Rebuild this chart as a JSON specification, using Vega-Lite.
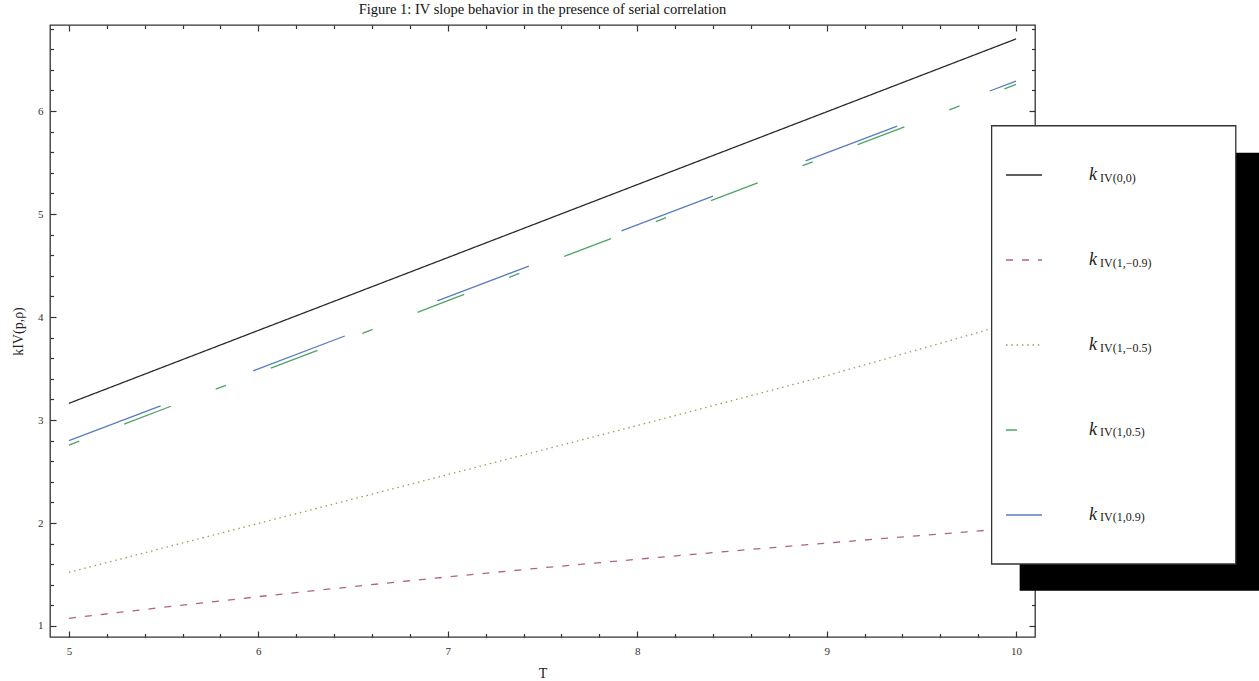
{
  "$schema": "https://vega.github.io/schema/vega-lite/v6.json",
  "width": 985,
  "height": 612,
  "autosize": {"type": "none"},
  "padding": {"left": 50, "top": 25, "right": 224, "bottom": 44},
  "background": "white",
  "title": {
    "text": "Figure 1: IV slope behavior in the presence of serial correlation",
    "font": "Liberation Serif",
    "fontSize": 14.5,
    "fontWeight": "normal",
    "color": "#111111",
    "anchor": "middle",
    "offset": 5
  },
  "config": {
    "view": {"stroke": "#333333", "strokeWidth": 1.3},
    "font": "Liberation Serif"
  },
  "datasets": {
    "lines": [
      {"T": 5, "k": 3.162, "series": "(0,0)", "sub": "IV(0,0)"},
      {"T": 6, "k": 3.870, "series": "(0,0)", "sub": "IV(0,0)"},
      {"T": 7, "k": 4.577, "series": "(0,0)", "sub": "IV(0,0)"},
      {"T": 8, "k": 5.285, "series": "(0,0)", "sub": "IV(0,0)"},
      {"T": 9, "k": 5.992, "series": "(0,0)", "sub": "IV(0,0)"},
      {"T": 10, "k": 6.700, "series": "(0,0)", "sub": "IV(0,0)"},
      {"T": 5, "k": 1.075, "series": "(1,−0.9)", "sub": "IV(1,−0.9)"},
      {"T": 5.5, "k": 1.182, "series": "(1,−0.9)", "sub": "IV(1,−0.9)"},
      {"T": 6, "k": 1.285, "series": "(1,−0.9)", "sub": "IV(1,−0.9)"},
      {"T": 6.5, "k": 1.383, "series": "(1,−0.9)", "sub": "IV(1,−0.9)"},
      {"T": 7, "k": 1.477, "series": "(1,−0.9)", "sub": "IV(1,−0.9)"},
      {"T": 7.5, "k": 1.565, "series": "(1,−0.9)", "sub": "IV(1,−0.9)"},
      {"T": 8, "k": 1.648, "series": "(1,−0.9)", "sub": "IV(1,−0.9)"},
      {"T": 8.5, "k": 1.728, "series": "(1,−0.9)", "sub": "IV(1,−0.9)"},
      {"T": 9, "k": 1.805, "series": "(1,−0.9)", "sub": "IV(1,−0.9)"},
      {"T": 9.5, "k": 1.879, "series": "(1,−0.9)", "sub": "IV(1,−0.9)"},
      {"T": 10, "k": 1.952, "series": "(1,−0.9)", "sub": "IV(1,−0.9)"},
      {"T": 5, "k": 1.521, "series": "(1,−0.5)", "sub": "IV(1,−0.5)"},
      {"T": 6, "k": 1.996, "series": "(1,−0.5)", "sub": "IV(1,−0.5)"},
      {"T": 7, "k": 2.470, "series": "(1,−0.5)", "sub": "IV(1,−0.5)"},
      {"T": 8, "k": 2.946, "series": "(1,−0.5)", "sub": "IV(1,−0.5)"},
      {"T": 9, "k": 3.430, "series": "(1,−0.5)", "sub": "IV(1,−0.5)"},
      {"T": 10, "k": 3.955, "series": "(1,−0.5)", "sub": "IV(1,−0.5)"},
      {"T": 5, "k": 2.757, "series": "(1,0.5)", "sub": "IV(1,0.5)"},
      {"T": 6, "k": 3.457, "series": "(1,0.5)", "sub": "IV(1,0.5)"},
      {"T": 7, "k": 4.158, "series": "(1,0.5)", "sub": "IV(1,0.5)"},
      {"T": 8, "k": 4.858, "series": "(1,0.5)", "sub": "IV(1,0.5)"},
      {"T": 9, "k": 5.558, "series": "(1,0.5)", "sub": "IV(1,0.5)"},
      {"T": 10, "k": 6.259, "series": "(1,0.5)", "sub": "IV(1,0.5)"},
      {"T": 5, "k": 2.799, "series": "(1,0.9)", "sub": "IV(1,0.9)"},
      {"T": 6, "k": 3.497, "series": "(1,0.9)", "sub": "IV(1,0.9)"},
      {"T": 7, "k": 4.196, "series": "(1,0.9)", "sub": "IV(1,0.9)"},
      {"T": 8, "k": 4.894, "series": "(1,0.9)", "sub": "IV(1,0.9)"},
      {"T": 9, "k": 5.593, "series": "(1,0.9)", "sub": "IV(1,0.9)"},
      {"T": 10, "k": 6.291, "series": "(1,0.9)", "sub": "IV(1,0.9)"}
    ]
  },
  "resolve": {"axis": {"x": "independent", "y": "independent"}},
  "layer": [
    {
      "data": {"name": "lines"},
      "mark": {"type": "line", "strokeWidth": 1.3},
      "encoding": {
        "x": {
          "field": "T", "type": "quantitative",
          "scale": {"domain": [4.9, 10.1], "nice": false, "zero": false},
          "axis": {
            "orient": "bottom",
            "values": [5, 5.2, 5.4, 5.6, 5.8, 6, 6.2, 6.4, 6.6, 6.8, 7, 7.2, 7.4, 7.6, 7.8, 8, 8.2, 8.4, 8.6, 8.8, 9, 9.2, 9.4, 9.6, 9.8, 10],
            "labelExpr": "datum.value % 1 === 0 ? '' + datum.value : ''",
            "tickSize": {"condition": {"test": "datum.value % 1 === 0", "value": -6}, "value": -3.5},
            "tickColor": "#333333", "tickWidth": 1.2,
            "labelPadding": 14, "labelFont": "Liberation Serif", "labelFontSize": 11, "labelColor": "#333333",
            "labelFlush": false, "labelOverlap": false,
            "domain": false, "grid": false,
            "title": "T", "titleFont": "Liberation Serif", "titleFontSize": 14, "titleFontWeight": "normal", "titleColor": "#222222", "titlePadding": 8
          }
        },
        "y": {
          "field": "k", "type": "quantitative",
          "scale": {"domain": [0.8932, 6.835], "nice": false, "zero": false},
          "axis": {
            "orient": "left",
            "values": [1, 1.2, 1.4, 1.6, 1.8, 2, 2.2, 2.4, 2.6, 2.8, 3, 3.2, 3.4, 3.6, 3.8, 4, 4.2, 4.4, 4.6, 4.8, 5, 5.2, 5.4, 5.6, 5.8, 6, 6.2, 6.4, 6.6, 6.8],
            "labelExpr": "datum.value % 1 === 0 ? '' + datum.value : ''",
            "tickSize": {"condition": {"test": "datum.value % 1 === 0", "value": -6}, "value": -3.5},
            "tickColor": "#333333", "tickWidth": 1.2,
            "labelPadding": 13, "labelFont": "Liberation Serif", "labelFontSize": 11, "labelColor": "#333333",
            "labelFlush": false, "labelOverlap": false,
            "domain": false, "grid": false,
            "title": "kIV(p,ρ)", "titleFont": "Liberation Serif", "titleFontSize": 14, "titleFontWeight": "normal", "titleColor": "#222222", "titlePadding": 12
          }
        },
        "color": {
          "field": "series", "type": "nominal",
          "scale": {
            "domain": ["(0,0)", "(1,−0.9)", "(1,−0.5)", "(1,0.5)", "(1,0.9)"],
            "range": ["#2b2b2b", "#b06090", "#a89858", "#4ca466", "#5b7bbf"]
          },
          "legend": {
            "orient": "none", "legendX": 955, "legendY": 131, "title": null, "padding": 0,
            "symbolType": "stroke", "symbolSize": 1296, "symbolStrokeWidth": 1.5,
            "labelExpr": "'k'", "labelFont": "Liberation Serif", "labelFontStyle": "italic", "labelFontSize": 18,
            "labelColor": "#222222", "labelOffset": 46, "rowPadding": 57
          }
        },
        "strokeDash": {
          "field": "series", "type": "nominal",
          "scale": {
            "domain": ["(0,0)", "(1,−0.9)", "(1,−0.5)", "(1,0.5)", "(1,0.9)"],
            "range": [[1, 0], [7, 9], [1.5, 3.8], [11, 48, 50, 48], [98, 99]]
          },
          "legend": {
            "orient": "none", "legendX": 955, "legendY": 131, "title": null, "padding": 0,
            "symbolType": "stroke", "symbolSize": 1296, "symbolStrokeWidth": 1.5,
            "labelExpr": "'k'", "labelFont": "Liberation Serif", "labelFontStyle": "italic", "labelFontSize": 18,
            "labelColor": "#222222", "labelOffset": 46, "rowPadding": 57
          }
        }
      }
    },
    {
      "data": {"values": [{}]},
      "mark": {"type": "rect", "color": "black"},
      "encoding": {
        "x": {
          "datum": 10.019, "type": "quantitative",
          "axis": {
            "orient": "top",
            "values": [5, 5.2, 5.4, 5.6, 5.8, 6, 6.2, 6.4, 6.6, 6.8, 7, 7.2, 7.4, 7.6, 7.8, 8, 8.2, 8.4, 8.6, 8.8, 9, 9.2, 9.4, 9.6, 9.8, 10],
            "labels": false,
            "tickSize": {"condition": {"test": "datum.value % 1 === 0", "value": -6}, "value": -3.5},
            "tickColor": "#333333", "tickWidth": 1.2,
            "domain": false, "grid": false, "title": null
          }
        },
        "x2": {"datum": 11.4},
        "y": {
          "datum": 5.595, "type": "quantitative",
          "axis": {
            "orient": "right",
            "values": [1, 1.2, 1.4, 1.6, 1.8, 2, 2.2, 2.4, 2.6, 2.8, 3, 3.2, 3.4, 3.6, 3.8, 4, 4.2, 4.4, 4.6, 4.8, 5, 5.2, 5.4, 5.6, 5.8, 6, 6.2, 6.4, 6.6, 6.8],
            "labels": false,
            "tickSize": {"condition": {"test": "datum.value % 1 === 0", "value": -6}, "value": -3.5},
            "tickColor": "#333333", "tickWidth": 1.2,
            "domain": false, "grid": false, "title": null
          }
        },
        "y2": {"datum": 1.343}
      }
    },
    {
      "data": {"values": [{}]},
      "mark": {"type": "rect", "fill": "white", "stroke": "#333333", "strokeWidth": 1.3},
      "encoding": {
        "x": {"datum": 9.871, "type": "quantitative", "axis": null},
        "x2": {"datum": 11.160},
        "y": {"datum": 5.857, "type": "quantitative", "axis": null},
        "y2": {"datum": 1.602}
      }
    },
    {
      "data": {"name": "lines"},
      "mark": {"type": "point", "opacity": 0},
      "encoding": {
        "x": {"field": "T", "type": "quantitative", "axis": null},
        "y": {"field": "k", "type": "quantitative", "axis": null},
        "shape": {
          "field": "sub", "type": "nominal",
          "scale": {"domain": ["IV(0,0)", "IV(1,−0.9)", "IV(1,−0.5)", "IV(1,0.5)", "IV(1,0.9)"]},
          "legend": {
            "orient": "none", "legendX": 1038, "legendY": 147, "title": null, "padding": 0,
            "symbolSize": 1, "symbolOpacity": 0, "symbolStrokeWidth": 0,
            "labelFont": "Liberation Serif", "labelFontSize": 12, "labelColor": "#222222",
            "labelOffset": 0, "rowPadding": 72.75
          }
        }
      }
    }
  ]
}
